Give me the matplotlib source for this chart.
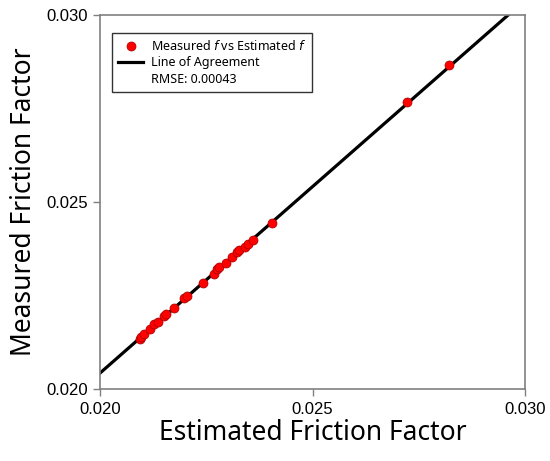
import matplotlib.pyplot as plt
from matplotlib.lines import Line2D

# estimated vs measured friction factor
estimated_f = [0.02093, 0.02097, 0.02104, 0.02118, 0.02128, 0.02137, 0.02151,
               0.02155, 0.02173, 0.02198, 0.02205, 0.02242, 0.02267, 0.02275,
               0.02280, 0.02296, 0.02310, 0.02323, 0.02328, 0.02340, 0.02348,
               0.02359, 0.02404, 0.02722, 0.02822]
measured_f = [0.02133, 0.02140, 0.02147, 0.02160, 0.02173, 0.02180, 0.02196,
              0.02202, 0.02218, 0.02243, 0.02249, 0.02284, 0.02309, 0.02320,
              0.02326, 0.02338, 0.02354, 0.02366, 0.02372, 0.02380, 0.02388,
              0.02399, 0.02445, 0.02767, 0.02866]

# line of agreement end points
line_x = [0.0200, 0.0296]
line_y = [0.02043, 0.0300]

ticks = [0.020, 0.025, 0.030]
tick_labels = ["0.020", "0.025", "0.030"]
rmse = 0.00043

fig = plt.figure(figsize=(5.5, 4.61), dpi=100)
ax = fig.add_axes([0.182, 0.156, 0.7727, 0.8113])

ax.plot(line_x, line_y, color="black", lw=2.3, zorder=2)
ax.plot(estimated_f, measured_f, "o", color="red", markeredgecolor="#a00000",
        markeredgewidth=0.5, markersize=6.5, zorder=3)

ax.set_xlim(0.020, 0.030)
ax.set_ylim(0.020, 0.030)
ax.set_xticks(ticks)
ax.set_yticks(ticks)
ax.set_xticklabels(tick_labels, family="Liberation Sans", fontsize=12)
ax.set_yticklabels(tick_labels, family="Liberation Sans", fontsize=12)
ax.tick_params(direction="out", length=5, width=1, color="#808080", pad=4)
for s in ax.spines.values():
    s.set_color("#808080")
    s.set_linewidth(1.2)

ax.set_xlabel("Estimated Friction Factor", family="Noto Sans", fontsize=19, labelpad=2)
ax.set_ylabel("Measured Friction Factor", family="Noto Sans", fontsize=19, labelpad=6)

handles = [
    Line2D([], [], ls="none", marker="o", color="red", markeredgecolor="#a00000",
           markeredgewidth=0.5, markersize=6.5),
    Line2D([], [], color="black", lw=2.3),
    Line2D([], [], ls="none"),
]
labels = ["Measured $f$ vs Estimated $f$", "Line of Agreement", f"RMSE: {rmse:.5f}"]
leg = ax.legend(handles, labels, loc="upper left", bbox_to_anchor=(0.028, 0.952),
                borderaxespad=0, frameon=True, fancybox=False, edgecolor="black",
                prop={"family": "Noto Sans", "size": 9}, labelspacing=0.25,
                handlelength=2.0, handletextpad=0.6, borderpad=0.5)
leg.get_frame().set_linewidth(1.0)

plt.savefig("out.png")
plt.close()
